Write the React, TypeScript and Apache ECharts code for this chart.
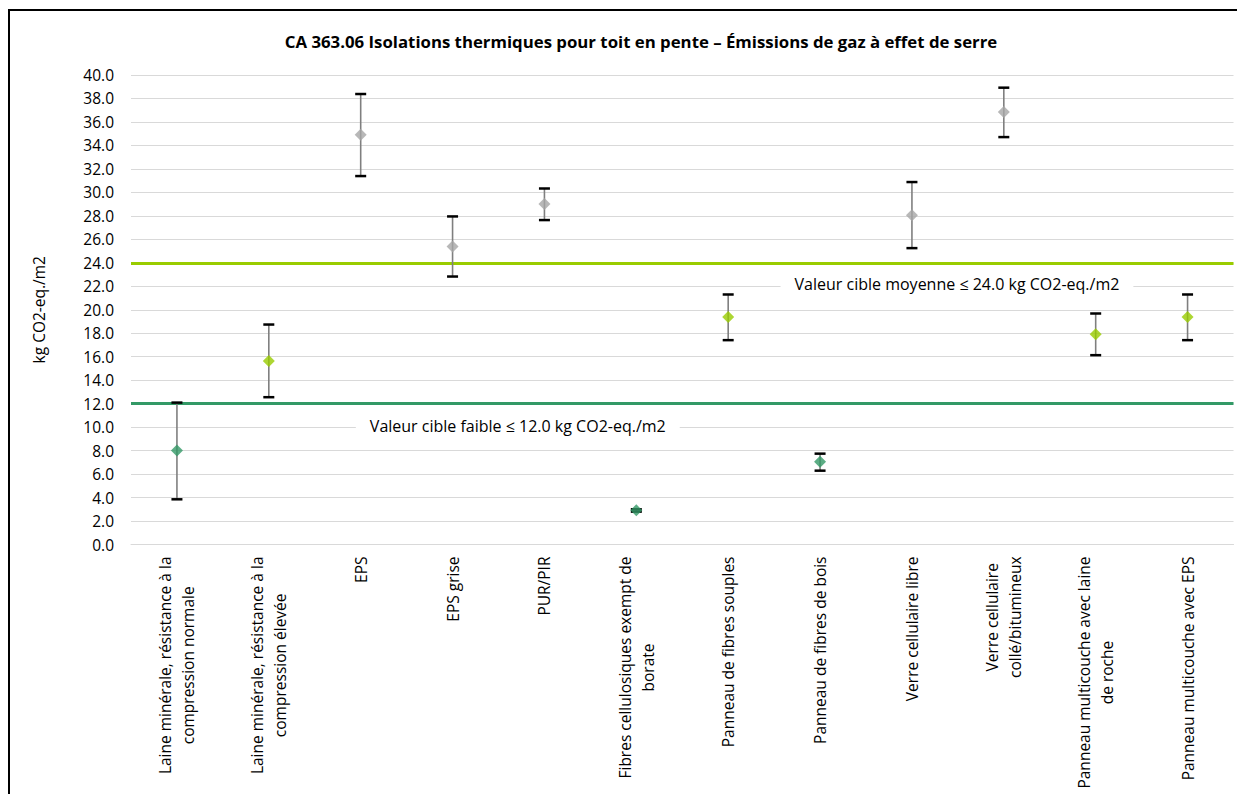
import React, { useEffect, useRef } from 'react';
import * as echarts from 'echarts';

const categories = [
  'Laine minérale, résistance à la\ncompression normale',
  'Laine minérale, résistance à la\ncompression élevée',
  'EPS',
  'EPS grise',
  'PUR/PIR',
  'Fibres cellulosiques exempt de\nborate',
  'Panneau de fibres souples',
  'Panneau de fibres de bois',
  'Verre cellulaire libre',
  'Verre cellulaire\ncollé/bitumineux',
  'Panneau multicouche avec laine\nde roche',
  'Panneau multicouche avec EPS',
];
const means = [8.0, 15.64, 34.91, 25.39, 29.0, 2.91, 19.39, 7.06, 28.06, 36.85, 17.92, 19.39];
const lows = [3.85, 12.55, 31.39, 22.83, 27.64, 2.8, 17.41, 6.29, 25.25, 34.71, 16.13, 17.41];
const highs = [12.09, 18.74, 38.38, 27.95, 30.33, 3.0, 21.3, 7.74, 30.88, 38.92, 19.68, 21.3];
const groups = ['low', 'mid', 'high', 'high', 'high', 'low', 'mid', 'low', 'high', 'high', 'mid', 'mid'];

const targetMid = 24.0;
const targetLow = 12.0;
const yMin = 0;
const yMax = 40;
const yStep = 2;

const titleText = 'CA 363.06 Isolations thermiques pour toit en pente – Émissions de gaz à effet de serre';
const yAxisName = 'kg CO2-eq./m2';
const annotationTexts = [
  `Valeur cible moyenne ≤ ${targetMid.toFixed(1)} kg CO2-eq./m2`,
  `Valeur cible faible ≤ ${targetLow.toFixed(1)} kg CO2-eq./m2`,
];
// annotation anchor positions (category-index units, value units)
const annotationAnchors = [
  [8.49, 22.2],
  [3.71, 10.13],
];

const groupColors: Record<string, string> = {
  low: '#339966',
  mid: '#99CC00',
  high: '#A6A6A6',
};

const FONT = '"Open Sans", "Noto Sans", sans-serif';

export default function App() {
  const ref = useRef<HTMLDivElement>(null);

  useEffect(() => {
    if (!ref.current) return;
    const chart = echarts.init(ref.current, null, { renderer: 'svg' });

    const option: any = {
      animation: false,
      backgroundColor: '#fff',
      textStyle: { fontFamily: FONT },
      graphic: [
        {
          type: 'text',
          x: 633,
          y: 33,
          style: {
            text: titleText,
            font: `bold 16.8px ${FONT}`,
            fill: '#000',
            align: 'center',
            verticalAlign: 'middle',
          },
        },
      ],
      grid: { left: 123, right: 11.5, top: 67, bottom: 249.5, containLabel: false },
      xAxis: [
        {
          type: 'category',
          data: categories,
          boundaryGap: true,
          axisLine: { show: true, lineStyle: { color: '#D9D9D9', width: 1 } },
          axisTick: { show: false },
          splitLine: { show: false },
          axisLabel: {
            interval: 0,
            rotate: 90,
            margin: 12,
            formatter: (v: string) =>
              v
                .split('\n')
                .map((l) => `{c|${l}}`)
                .join('\n'),
            rich: {
              c: {
                align: 'center',
                fontSize: 15.5,
                fontFamily: FONT,
                lineHeight: 23,
                color: '#000',
              },
            },
          },
        },
        {
          type: 'value',
          min: -0.5,
          max: 11.5,
          show: false,
          splitLine: { show: false },
        },
      ],
      yAxis: {
        type: 'value',
        min: yMin,
        max: yMax,
        interval: yStep,
        name: yAxisName,
        nameLocation: 'middle',
        nameGap: 84,
        nameRotate: 90,
        nameTextStyle: { fontSize: 15.5, fontFamily: FONT, color: '#000' },
        axisLine: { show: false },
        axisTick: { show: false },
        axisLabel: {
          margin: 17,
          fontSize: 15.5,
          fontFamily: FONT,
          color: '#000',
          formatter: (v: number) => v.toFixed(1),
        },
        splitLine: { show: true, lineStyle: { color: '#D9D9D9', width: 1 } },
      },
      series: [
        {
          type: 'custom',
          name: 'errors',
          xAxisIndex: 0,
          z: 3,
          data: categories.map((_, i) => [i, lows[i], highs[i]]),
          encode: { x: 0, y: [1, 2] },
          renderItem: (params: any, api: any) => {
            const x = api.value(0);
            const pLo = api.coord([x, api.value(1)]);
            const pHi = api.coord([x, api.value(2)]);
            const cw = 11;
            return {
              type: 'group',
              children: [
                {
                  type: 'line',
                  shape: { x1: pLo[0], y1: pLo[1], x2: pHi[0], y2: pHi[1] },
                  style: { stroke: '#7F7F7F', lineWidth: 1.6 },
                },
                {
                  type: 'line',
                  shape: { x1: pLo[0] - cw / 2, y1: pLo[1], x2: pLo[0] + cw / 2, y2: pLo[1] },
                  style: { stroke: '#000', lineWidth: 2.5 },
                },
                {
                  type: 'line',
                  shape: { x1: pHi[0] - cw / 2, y1: pHi[1], x2: pHi[0] + cw / 2, y2: pHi[1] },
                  style: { stroke: '#000', lineWidth: 2.5 },
                },
              ],
            };
          },
        },
        {
          type: 'scatter',
          name: 'valeurs',
          xAxisIndex: 0,
          z: 4,
          symbol: 'diamond',
          symbolSize: 12,
          data: means.map((v, i) => ({
            value: v,
            itemStyle: { color: groupColors[groups[i]] },
          })),
          markLine: {
            silent: true,
            symbol: 'none',
            label: { show: false },
            z: 2,
            data: [
              { yAxis: targetMid, lineStyle: { color: '#99CC00', width: 3, type: 'solid' } },
              { yAxis: targetLow, lineStyle: { color: '#339966', width: 3, type: 'solid' } },
            ],
          },
        },
        {
          type: 'custom',
          name: 'annotations',
          xAxisIndex: 1,
          z: 2,
          silent: true,
          data: annotationAnchors.map((a) => [a[0], a[1]]),
          renderItem: (params: any, api: any) => {
            const p = api.coord([api.value(0), api.value(1)]);
            return {
              type: 'text',
              x: p[0],
              y: p[1],
              style: {
                text: annotationTexts[params.dataIndex],
                font: `16px ${FONT}`,
                fill: '#000',
                align: 'center',
                verticalAlign: 'middle',
                backgroundColor: '#fff',
                padding: [3, 14],
              },
            };
          },
        },
      ],
    };

    chart.setOption(option);
    return () => chart.dispose();
  }, []);

  return (
    <div style={{ position: 'relative', width: 1237, height: 786 }}>
      <div ref={ref} style={{ position: 'absolute', left: 0, top: 0, width: 1237, height: 786 }} />
      <div
        style={{
          position: 'absolute',
          left: 0,
          top: 1,
          width: 1237,
          height: 785,
          borderLeft: '2px solid #000',
          borderTop: '2px solid #000',
          boxSizing: 'border-box',
          pointerEvents: 'none',
        }}
      />
    </div>
  );
}
